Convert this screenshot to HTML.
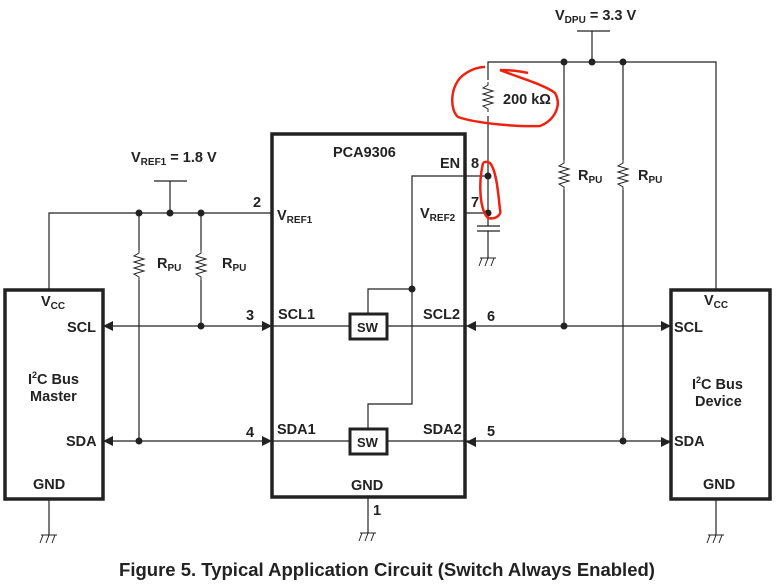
<!DOCTYPE html>
<html><head><style>
body{margin:0;background:#fff;width:777px;height:582px;overflow:hidden}
svg text{font-family:"Liberation Sans",Arial,sans-serif;font-weight:bold;fill:#222}
</style></head><body>
<svg width="777" height="582" viewBox="0 0 777 582" xmlns="http://www.w3.org/2000/svg">
<defs>
<g id="gnd"><line x1="-8" y1="0" x2="8" y2="0" stroke="#222" stroke-width="1"/><line x1="-6" y1="0" x2="-9" y2="8" stroke="#222"/><line x1="0" y1="0" x2="-3" y2="8" stroke="#222"/><line x1="6" y1="0" x2="3" y2="8" stroke="#222"/></g>
<g id="res"><polyline points="0,0 0,3 -5,6 5,9 -5,12 5,15 -5,18 5,21 -5,24 0,27 0,30" fill="none" stroke="#222" stroke-width="1"/></g>
</defs>
<g stroke="#222" stroke-width="1.2" fill="none">
<rect x="5" y="290" width="98" height="209" stroke-width="3.5"/>
<rect x="272" y="134" width="193" height="363" stroke-width="3.5"/>
<rect x="671" y="290" width="99" height="209" stroke-width="3.5"/>
<rect x="350" y="314" width="37" height="25" stroke-width="3"/>
<rect x="350" y="429" width="37" height="25" stroke-width="3"/>
<polyline points="49,290 49,213 272,213"/>
<polyline points="170,213 170,181"/><line x1="154" y1="181" x2="187" y2="181"/>
<line x1="139" y1="213" x2="139" y2="250"/><line x1="139" y1="280" x2="139" y2="441"/>
<line x1="201" y1="213" x2="201" y2="250"/><line x1="201" y1="280" x2="201" y2="326"/>
<line x1="103" y1="326" x2="350" y2="326"/><line x1="387" y1="326" x2="671" y2="326"/>
<line x1="103" y1="441" x2="350" y2="441"/><line x1="387" y1="441" x2="671" y2="441"/>
<polyline points="488,176 412,176 412,404 368,404 368,429"/>
<polyline points="412,289 368,289 368,314"/>
<line x1="465" y1="213" x2="488" y2="213"/>
<polyline points="488,176 488,62 716,62 716,290"/>
<line x1="592" y1="62" x2="592" y2="31"/><line x1="577" y1="31" x2="610" y2="31"/>
<line x1="488" y1="176" x2="488" y2="226"/>
<line x1="477" y1="226" x2="500" y2="226"/><line x1="477" y1="231" x2="500" y2="231"/>
<line x1="488" y1="231" x2="488" y2="258"/>
<line x1="564" y1="62" x2="564" y2="160"/><line x1="564" y1="190" x2="564" y2="326"/>
<line x1="623" y1="62" x2="623" y2="160"/><line x1="623" y1="190" x2="623" y2="441"/>
<line x1="49" y1="499" x2="49" y2="535"/><line x1="368" y1="497" x2="368" y2="533"/><line x1="716" y1="499" x2="716" y2="535"/>
</g>
<rect x="484" y="80" width="8" height="36" fill="#fff"/>
<use href="#res" x="488" y="82"/>
<use href="#res" x="139" y="250"/><use href="#res" x="201" y="250"/>
<use href="#res" x="564" y="160"/><use href="#res" x="623" y="160"/>
<use href="#gnd" x="49" y="535"/><use href="#gnd" x="368" y="533"/><use href="#gnd" x="716" y="535"/><use href="#gnd" x="488" y="258"/>
<g fill="#222">
<circle cx="139" cy="213" r="3.5"/><circle cx="170" cy="213" r="3.5"/><circle cx="201" cy="213" r="3.5"/>
<circle cx="201" cy="326" r="3.5"/><circle cx="139" cy="441" r="3.5"/>
<circle cx="412" cy="289" r="3.5"/><circle cx="488" cy="176" r="3.5"/><circle cx="488" cy="213" r="3.5"/>
<circle cx="564" cy="62" r="3.5"/><circle cx="592" cy="62" r="3.5"/><circle cx="623" cy="62" r="3.5"/>
<circle cx="564" cy="326" r="3.5"/><circle cx="623" cy="441" r="3.5"/>
<polygon points="103,326 113,321 113,331"/><polygon points="272,326 262,321 262,331"/>
<polygon points="103,441 113,436 113,446"/><polygon points="272,441 262,436 262,446"/>
<polygon points="466,326 476,321 476,331"/><polygon points="671,326 661,321 661,331"/>
<polygon points="466,442 476,437 476,447"/><polygon points="671,442 661,437 661,447"/>
</g>
<g stroke="#e21" stroke-width="2.5" fill="none">
<path d="M528,73 C515,70 502,70 500,70 C520,78 545,85 555,93 C562,105 555,120 540,126 C515,127 475,123 458,117 C450,110 450,90 460,78 C468,70 478,67 485,67"/>
<path d="M483,163 C478,185 480,210 488,218 C496,220 502,214 500,210 C498,190 496,170 490,163 C487,161 484,162 483,163"/>
</g>
<g font-size="14.5">
<text x="555" y="20">V<tspan font-size="10" dy="3">DPU</tspan><tspan dy="-3"> = 3.3 V</tspan></text>
<text x="131" y="162">V<tspan font-size="10" dy="3">REF1</tspan><tspan dy="-3"> = 1.8 V</tspan></text>
<text x="503" y="104">200 kΩ</text>
<text x="333" y="157">PCA9306</text>
<text x="440" y="168">EN</text>
<text x="471" y="168">8</text>
<text x="471" y="207">7</text>
<text x="420" y="218">V<tspan font-size="10" dy="3">REF2</tspan></text>
<text x="277" y="220">V<tspan font-size="10" dy="3">REF1</tspan></text>
<text x="253" y="207">2</text>
<text x="246" y="320">3</text>
<text x="246" y="437">4</text>
<text x="487" y="321">6</text>
<text x="487" y="436">5</text>
<text x="278" y="319">SCL1</text>
<text x="277" y="434">SDA1</text>
<text x="423" y="319">SCL2</text>
<text x="423" y="434">SDA2</text>
<text x="357" y="332" font-size="13">SW</text>
<text x="357" y="447" font-size="13">SW</text>
<text x="351" y="490">GND</text>
<text x="373" y="515">1</text>
<text x="157" y="268">R<tspan font-size="10" dy="3">PU</tspan></text>
<text x="222" y="268">R<tspan font-size="10" dy="3">PU</tspan></text>
<text x="578" y="180">R<tspan font-size="10" dy="3">PU</tspan></text>
<text x="638" y="180">R<tspan font-size="10" dy="3">PU</tspan></text>
<text x="41" y="306">V<tspan font-size="10" dy="3">CC</tspan></text>
<text x="67" y="332">SCL</text>
<text x="66" y="446">SDA</text>
<text x="33" y="489">GND</text>
<text x="28" y="384">I<tspan font-size="9" dy="-6">2</tspan><tspan dy="6">C Bus</tspan></text>
<text x="30" y="401">Master</text>
<text x="704" y="305">V<tspan font-size="10" dy="3">CC</tspan></text>
<text x="674" y="332">SCL</text>
<text x="674" y="446">SDA</text>
<text x="703" y="489">GND</text>
<text x="692" y="389">I<tspan font-size="9" dy="-6">2</tspan><tspan dy="6">C Bus</tspan></text>
<text x="695" y="406">Device</text>
</g>
<text x="387" y="576" font-size="18.5" text-anchor="middle">Figure 5.  Typical Application Circuit (Switch Always Enabled)</text>
</svg>
</body></html>
